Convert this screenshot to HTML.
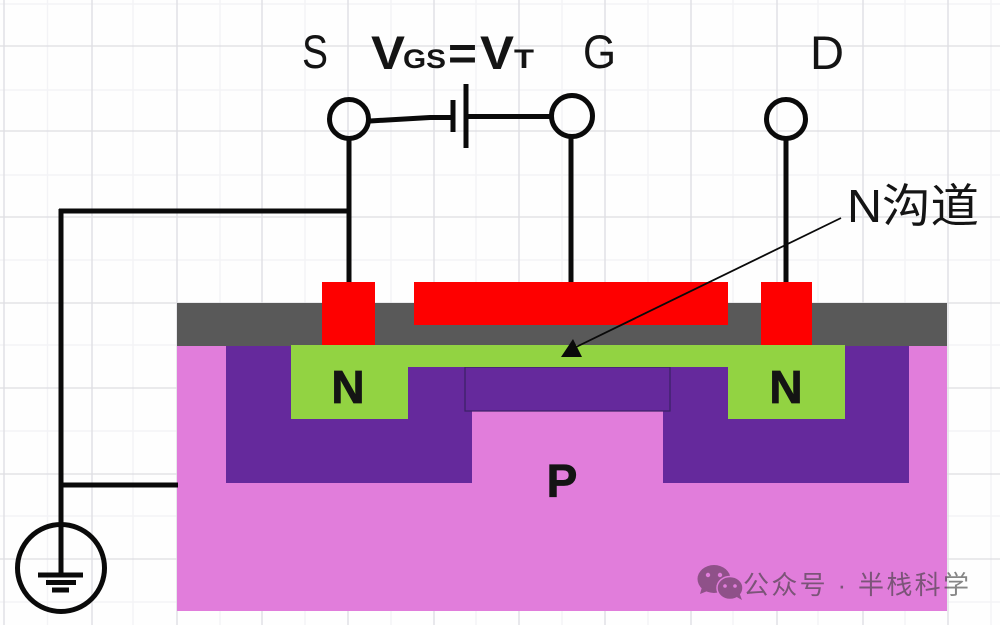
<!DOCTYPE html>
<html><head><meta charset="utf-8">
<style>html,body{margin:0;padding:0;background:#fff}svg{display:block}
text{font-family:"Liberation Sans","Noto Sans CJK SC",sans-serif}</style></head>
<body>
<svg xmlns="http://www.w3.org/2000/svg" width="1000" height="625" viewBox="0 0 1000 625">
<rect width="1000" height="625" fill="#fefefe"/>
<g stroke="#f3f3f6" stroke-width="1.500" fill="none">
<path d="M47.500 0V625M133 0V625M220 0V625M305 0V625M391 0V625M476 0V625M562 0V625M648 0V625M733 0V625M818 0V625M905 0V625M991 0V625"/>
<path d="M0 4H1000M0 90H1000M0 175H1000M0 260H1000M0 345H1000M0 431H1000M0 516H1000M0 602H1000"/>
</g>
<g stroke="#dddde2" stroke-width="1.300" fill="none">
<path d="M4 0V625M92 0V625M177 0V625M262 0V625M348 0V625M434 0V625M519 0V625M605 0V625M691 0V625M777 0V625M863 0V625M948 0V625"/>
<path d="M0 46H1000M0 131H1000M0 217H1000M0 303H1000M0 388H1000M0 474H1000M0 559H1000"/>
</g>

<rect x="177" y="345" width="770" height="266" fill="#e17ddb"/>
<rect x="177" y="303" width="770" height="43" fill="#595959"/>
<rect x="226" y="346" width="246" height="137" fill="#65299c"/>
<rect x="663" y="346" width="246" height="137" fill="#65299c"/>
<rect x="465" y="367" width="205" height="44" fill="#65299c" stroke="#3a2263" stroke-width="1.200"/>
<path d="M291 345H845V419H728V367H408V419H291Z" fill="#92d342"/>
<rect x="322" y="282" width="53" height="63" fill="#fe0000"/>
<rect x="414" y="282" width="314" height="43" fill="#fe0000"/>
<rect x="761" y="282" width="51" height="63" fill="#fe0000"/>

<g fill="none" stroke="#0a0a0a" stroke-width="5">
<path d="M349 138V282M571 136V282M786 138V282"/>
<path d="M349 211H59M61 209V575M61 485H178"/>
<path d="M370 121L430 117.500H452M468 116.500H552"/>
<path d="M453 100V132M466 84V148" />
<circle cx="349" cy="119" r="19.500"/>
<circle cx="572" cy="116" r="20.500"/>
<circle cx="786" cy="119" r="19.500"/>
<circle cx="61" cy="568" r="43.500"/>
<path d="M38 575H83M46 582.500H76M52 590H69"/>
</g>
<line x1="841" y1="218" x2="574" y2="348" stroke="#0a0a0a" stroke-width="1.800"/>
<path d="M573 339L561 357H582Z" fill="#0a0a0a"/>

<g fill="#141414">
<text x="302" y="68" font-size="47" textLength="26" lengthAdjust="spacingAndGlyphs">S</text>
<text x="583" y="68" font-size="47" textLength="33" lengthAdjust="spacingAndGlyphs">G</text>
<text x="810" y="69" font-size="47" textLength="34" lengthAdjust="spacingAndGlyphs">D</text>
<text x="371" y="69" font-size="47" font-weight="bold" textLength="34" lengthAdjust="spacingAndGlyphs">V</text>
<text x="403" y="68" font-size="27" font-weight="bold" textLength="43" lengthAdjust="spacingAndGlyphs">GS</text>
<text x="448" y="69" font-size="46" font-weight="bold" textLength="29" lengthAdjust="spacingAndGlyphs">=</text>
<text x="480" y="69" font-size="47" font-weight="bold" textLength="34" lengthAdjust="spacingAndGlyphs">V</text>
<text x="514" y="68" font-size="27" font-weight="bold" textLength="20" lengthAdjust="spacingAndGlyphs">T</text>
<text x="847" y="222" font-size="46" textLength="132" lengthAdjust="spacingAndGlyphs">N沟道</text>
<text x="348" y="403" font-size="46" font-weight="bold" text-anchor="middle" stroke="#141414" stroke-width="0.800">N</text>
<text x="786" y="403" font-size="46" font-weight="bold" text-anchor="middle" stroke="#141414" stroke-width="0.800">N</text>
<text x="562" y="497" font-size="46" font-weight="bold" text-anchor="middle" stroke="#141414" stroke-width="0.800">P</text>
</g>

<g fill="#8f5189">
<ellipse cx="714" cy="579" rx="16.500" ry="14"/>
<path d="M702 587L700 594L710 590Z"/>
<ellipse cx="730" cy="588" rx="13" ry="11.500" stroke="#e17ddb" stroke-width="1.500"/>
<path d="M735 596L742 600L739 592Z"/>
</g>
<g fill="#e17ddb"><circle cx="708" cy="575" r="2.200"/><circle cx="720" cy="575" r="2.200"/><circle cx="725" cy="586" r="1.800"/><circle cx="735" cy="586" r="1.800"/></g>
<text x="743" y="594" font-size="26" fill="#3c3c3c" fill-opacity="0.62" textLength="226">公众号 · 半栈科学</text>
</svg>
</body></html>
